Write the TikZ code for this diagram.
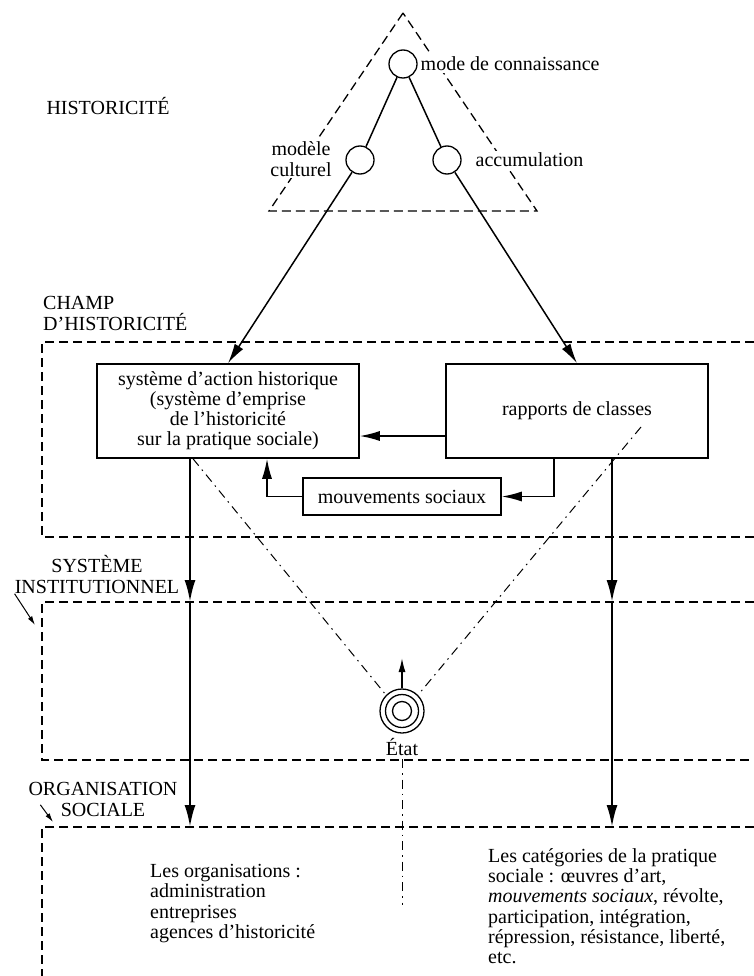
\documentclass[tikz,border=0pt]{standalone}
\usepackage{fontspec}
\setmainfont{Liberation Serif}
\usetikzlibrary{arrows.meta, calc, positioning}

\begin{document}
\begin{tikzpicture}[x=1pt, y=-1pt,
    every node/.style={font=\fontsize{20}{21}\selectfont},
    band/.style={line width=1.3pt, dash pattern=on 9pt off 5pt},
    axe/.style={line width=1pt, dash pattern=on 9pt off 5pt on 1.5pt off 5pt},
    pole/.style={circle, draw, line width=1.3pt, minimum size=28pt, inner sep=0pt, fill=white},
    boite/.style={draw, line width=1.5pt, align=center, inner sep=0pt, font=\fontsize{20}{20}\selectfont},
    lbl/.style={fill=white, inner sep=1.5pt},
    bloc/.style={anchor=north west, align=left, inner sep=0pt, font=\fontsize{20}{20.3}\selectfont},
    fleche/.style={line width=1.5pt, -{Latex[length=20pt,width=10pt]}},
    gros/.style={line width=2.4pt, -{Latex[length=22pt,width=11pt]}},
    petite/.style={line width=1pt, -{Latex[length=9pt,width=5pt]}}]
    \useasboundingbox (0,0) rectangle (754,976);

    \draw[band] (403,13) -- (269,211) -- (537,211) -- cycle;
    \draw[band] (754,342) -- (42,342) -- (42,537) -- (754,537);
    \draw[band] (754,602) -- (42,602) -- (42,760) -- (754,760);
    \draw[band] (754,827) -- (42,827) -- (42,976);

    \node[pole] (c1) at (403,64) {};
    \node[pole] (c2) at (360,160) {};
    \node[pole] (c3) at (447,160) {};
    \node[lbl, anchor=west] (t1) at (419,64) {mode de connaissance};
    \node[lbl, align=center] (t2) at (301,159) {modèle\\culturel};
    \node[lbl, anchor=west] (t3) at (474,160) {accumulation};
    \node (hist) at (108,106) {HISTORICITÉ};

    \node[anchor=north west, align=left, inner sep=0pt] (champ) at (43,296) {CHAMP\\D’HISTORICITÉ};
    \node[anchor=north, align=center, inner sep=0pt] (inst) at (97,555) {SYSTÈME\\INSTITUTIONNEL};
    \node[anchor=north, align=center, inner sep=0pt] (org) at (103,782) {ORGANISATION\\SOCIALE};

    \node[boite, minimum width=262pt, minimum height=94pt] (sah) at (228,411) {système d’action historique\\(système d’emprise\\de l’historicité\\sur la pratique sociale)};
    \node[boite, minimum width=262pt, minimum height=94pt] (rdc) at (577,411) {rapports de classes};
    \node[boite, minimum width=198pt, minimum height=37pt] (mouv) at (402,496.5) {mouvements sociaux};

    \draw[line width=1.5pt] (c1) -- (c2);
    \draw[line width=1.5pt] (c1) -- (c3);
    \draw[fleche] (c2) -- (sah.north);
    \draw[fleche] (c3) -- (rdc.north);
    \draw[fleche] ([yshift=-25pt]rdc.west) -- ([yshift=-25pt]sah.east);
    \draw[fleche] ([xshift=-23pt]rdc.south) |- (mouv.east);
    \draw[fleche] (mouv.west) -| ([xshift=39pt]sah.south);

    \coordinate (gA) at (190,602);
    \coordinate (gB) at (190,827);
    \coordinate (dA) at (612,602);
    \coordinate (dB) at (612,827);
    \draw[gros] ([xshift=-38pt]sah.south) -- (gA);
    \draw[gros] (gA) -- (gB);
    \draw[gros] ([xshift=35pt]rdc.south) -- (dA);
    \draw[gros] (dA) -- (dB);

    \node[circle, draw, line width=1.3pt, minimum size=44pt, inner sep=0pt] (etat) at (402,711) {};
    \draw[line width=1.3pt] (etat) circle (16.5pt) (etat) circle (9.5pt);
    \node (etatlbl) at (402,747) {État};
    \coordinate (haut) at (402,658);
    \coordinate (bas) at (402,905);
    \draw[line width=1.5pt, -{Latex[length=14pt,width=7pt]}] (etat.north) -- (haut);
    \draw[axe] ([xshift=-35pt]sah.south) -- (etat.135);
    \draw[axe] ([shift={(64pt,-16pt)}]rdc.center) -- (etat.45);
    \draw[axe] (etatlbl.south) -- (bas);

    \coordinate (instTip) at (35,625);
    \coordinate (orgTip) at (53,822);
    \draw[petite] (inst.south west) -- (instTip);
    \draw[petite] ([shift={(12pt,12pt)}]org.south west) -- (orgTip);

    \node[bloc] (orgs) at (150,864) {Les organisations~:\\administration\\entreprises\\agences d’historicité};
    \node[bloc] (cat) at (488,848) {Les catégories de la pratique\\sociale~: œuvres d’art,\\\textit{mouvements sociaux}, révolte,\\participation, intégration,\\répression, résistance, liberté,\\etc.};
\end{tikzpicture}
\end{document}
